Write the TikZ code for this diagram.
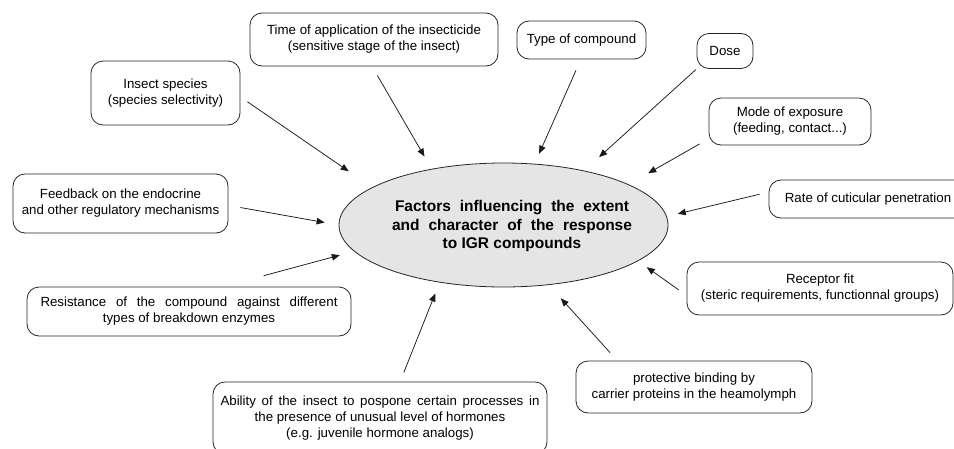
\documentclass[tikz,border=0pt]{standalone}
\usepackage{fontspec}
\setmainfont{Liberation Sans}
\usetikzlibrary{shapes.geometric,arrows.meta}
\tikzset{
  box/.style={draw=black!85, line width=0.8pt, rounded corners=12pt, align=center,
    inner sep=0pt, font=\fontsize{13.3}{16}\selectfont},
  arr/.style={draw=black!90, line width=0.75pt, -{Triangle[length=8pt,width=6.5pt]}},
}
\begin{document}
\begin{tikzpicture}[x=1pt,y=-1pt]
\useasboundingbox (0,0) rectangle (954,448);
\clip (0,0) rectangle (954,448);

% central ellipse
\node[ellipse, draw=black!85, line width=0.8pt, fill=gray!20, minimum width=329pt,
  minimum height=124pt, inner sep=0pt] (ell) at (503.5,225) {};
\node[font=\fontsize{15.5}{18.5}\selectfont\bfseries, align=center, inner sep=0pt] (title) at (512,226)
  {\makebox[234pt][s]{Factors influencing the extent}\\
   \makebox[240pt][s]{and character of the response}\\
   to IGR compounds};

% boxes
\node[box, minimum width=248pt, minimum height=53pt] (time) at (374,39.5)
  {Time of application of the insecticide\\(sensitive stage of the insect)};
\node[box, minimum width=149pt, minimum height=64pt] (ins) at (165.5,93)
  {Insect species\\(species selectivity)};
\node[box, minimum width=215pt, minimum height=59pt] (feed) at (120.5,203.5)
  {Feedback on the endocrine\\and other regulatory mechanisms};
\node[box, minimum width=129pt, minimum height=38pt] (type) at (581.5,40)
  {Type of compound};
\node[box, minimum width=56pt, minimum height=35pt] (dose) at (725,51)
  {Dose};
\node[box, minimum width=162pt, minimum height=47pt] (mode) at (790,121.5)
  {Mode of exposure\\(feeding, contact...)};
\node[box, minimum width=198pt, minimum height=38pt] (rate) at (868,199)
  {Rate of cuticular penetration};
\node[box, minimum width=266pt, minimum height=53pt] (rec) at (820,288.5)
  {Receptor fit\\(steric requirements, functionnal groups)};
\node[box, minimum width=236pt, minimum height=52pt] (prot) at (694,387)
  {protective binding by\\carrier proteins in the heamolymph};
\node[box, minimum width=334pt, minimum height=72pt] (abil) at (380,418)
  {\makebox[319pt][s]{Ability of the insect to pospone certain processes in}\\
   the presence of unusual level of hormones\\(e.g. juvenile hormone analogs)};
\node[box, minimum width=324pt, minimum height=49pt] (res) at (189,311.5)
  {\makebox[297pt][s]{Resistance of the compound against different}\\types of breakdown enzymes};

% connectors
\draw[arr, shorten <=8.5pt, shorten >=28.3pt] (ins.-3.2) -- (ell.164.4);
\draw[arr, shorten <=10.4pt, shorten >=14.2pt] (time.-94.7) -- (ell.142.4);
\draw[arr, shorten <=12pt, shorten >=11pt] (type.-92.1) -- (ell.63);
\draw[arr, shorten <=1pt, shorten >=20.1pt] (dose.south west) -- (ell.34.7);
\draw[arr, shorten <=10.3pt, shorten >=22.6pt] (mode.-168.6) -- (ell.18.3);
\draw[arr, shorten <=9.2pt, shorten >=11.3pt] (rate.176.5) -- (ell.3.4);
\draw[arr, shorten <=12.2pt, shorten >=14.2pt] (feed.-1.1) -- (ell.180);
\draw[arr, shorten <=41.8pt, shorten >=14.7pt] (res.36) -- (ell.-170.1);
\draw[arr, shorten <=9.7pt, shorten >=11.8pt] (abil.61.7) -- (ell.-138.3);
\draw[arr, shorten <=10.8pt, shorten >=18pt] (prot.161.3) -- (ell.-53.4);
\draw[arr, shorten <=9.7pt, shorten >=10.7pt] (rec.-177) -- (ell.-15.2);
\end{tikzpicture}
\end{document}
